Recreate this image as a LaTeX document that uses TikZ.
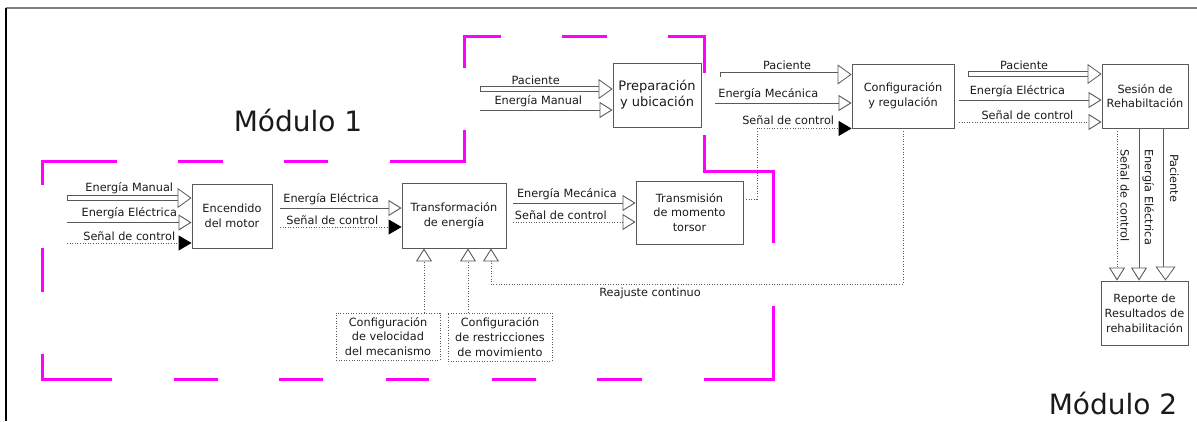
\documentclass[tikz,border=0pt]{standalone}
\usepackage{fontspec}
\setmainfont{DejaVu Sans}
\usetikzlibrary{arrows.meta}

\definecolor{linea}{HTML}{595959}
\definecolor{texto}{HTML}{1A1A1A}
\definecolor{rosa}{HTML}{FF00FF}

\tikzset{
	bloque/.style={draw=linea, line width=0.9pt, align=center, text=texto, font=\fontsize{11.3}{14.8}\selectfont, inner sep=0pt},
	etiq/.style={text=texto, font=\fontsize{11.3}{13}\selectfont, inner sep=1pt},
	vertical/.style={etiq, rotate=-90, anchor=south west, inner ysep=3pt},
	punteado/.style={dash pattern=on 1pt off 1.6pt},
	flecha/.style={draw=linea, line width=0.9pt, -{Triangle[open, fill=white, length=13pt, width=16pt]}},
	flechanegra/.style={draw=linea, line width=0.9pt, punteado, -{Triangle[length=13pt, width=15pt, color=black]}},
	doble/.style={draw=linea, line width=0.8pt, double=white, double distance=4pt, {Bar[width=5.6pt, line width=0.8pt]}-{Triangle[open, fill=white, length=14pt, width=20pt, line width=0.8pt]}},
	modulo/.style={draw=rosa, line width=3pt},
	titulo/.style={text=texto, font=\fontsize{28}{30}\selectfont}
}

\begin{document}
\begin{tikzpicture}[x=1pt, y=-1pt]
	\useasboundingbox (0,0) rectangle (1197,421);
	\draw[gray, line width=1.6pt] (6,8) -- (1197,8);
	\draw[black, line width=1.6pt] (6,8) -- (6,421);

	% limite del modulo 1
	\draw[modulo] (42,185) -- (42,161) -- (117,161) (178,161) -- (223,161) (284,161) -- (328,161)
		(390,161) -- (464,161) -- (464,130) (464,68) -- (464,36) -- (501,36) (562,36) -- (607,36)
		(668,36) -- (704,36) -- (704,73) (704,135) -- (704,171) -- (773,171) -- (773,243)
		(773,306) -- (773,379) -- (704,379) (642,379) -- (597,379) (536,379) -- (492,379)
		(429,379) -- (386,379) (323,379) -- (279,379) (218,379) -- (174,379)
		(112,379) -- (42,379) -- (42,354) (42,292) -- (42,248);

	\node[titulo] (m1) at (298,120) {Módulo 1};
	\node[titulo] (m2) at (1113,403) {Módulo 2};

	% bloques
	\node[bloque, minimum width=80pt, minimum height=64pt] (enc) at (232,216) {Encendido\\del motor};
	\node[bloque, minimum width=104pt, minimum height=65pt] (transf) at (454,215.5) {Transformación\\de energía};
	\node[bloque, minimum width=107pt, minimum height=63pt] (transm) at (689.5,212.5) {Transmisión\\de momento\\torsor};
	\node[bloque, minimum width=88pt, minimum height=64pt, font=\fontsize{13}{16}\selectfont] (prep) at (657,95) {Preparación\\y ubicación};
	\node[bloque, minimum width=102pt, minimum height=64pt] (conf) at (903,96) {Configuración\\y regulación};
	\node[bloque, minimum width=86pt, minimum height=64pt] (sesion) at (1145,96) {Sesión de\\Rehabiltación};
	\node[bloque, minimum width=87pt, minimum height=64pt] (rep) at (1144.5,313) {Reporte de\\Resultados de\\rehabilitación};
	\node[bloque, punteado, minimum width=104pt, minimum height=47pt] (vel) at (388,336.5) {Configuración\\de velocidad\\del mecanismo};
	\node[bloque, punteado, minimum width=104pt, minimum height=48pt] (rest) at (500,337) {Configuración\\de restricciones\\de movimiento};

	% entradas del encendido
	\coordinate (a1) at (67,198);
	\coordinate (a2) at (67,222.5);
	\coordinate (a3) at (67,243);
	\draw[doble] (a1) -- (enc.west |- a1) node[etiq, midway, above=3pt] {Energía Manual};
	\draw[flecha] (a2) -- (enc.west |- a2) node[etiq, midway, above=2pt] {Energía Eléctrica};
	\draw[flechanegra] (a3) -- (enc.west |- a3) node[etiq, midway, above=1pt] {Señal de control};

	% encendido -> transformacion -> transmision
	\coordinate (b1) at (280,208);
	\coordinate (b2) at (280,227);
	\draw[flecha] (b1) -- (transf.west |- b1) node[etiq, pos=0.42, above=2pt] {Energía Eléctrica};
	\draw[flechanegra] (b2) -- (transf.west |- b2) node[etiq, pos=0.43, above=1pt] {Señal de control};
	\coordinate (c1) at (513,203);
	\coordinate (c2) at (513,222);
	\draw[flecha] (c1) -- (transm.west |- c1) node[etiq, pos=0.44, above=2pt] {Energía Mecánica};
	\draw[flecha, punteado] (c2) -- (transm.west |- c2) node[etiq, pos=0.39, above=1pt] {Señal de control};

	% transmision -> configuracion
	\coordinate (s1) at (757,199);
	\draw[flechanegra] (transm.east |- s1) -- (s1) |- (conf.south west) node[etiq, pos=0.665, above=2pt] {Señal de control};

	% entradas de preparacion
	\coordinate (p1) at (480,89);
	\coordinate (p2) at (480,110);
	\draw[doble] (p1) -- (prep.west |- p1) node[etiq, pos=0.42, above=3pt] {Paciente};
	\draw[flecha] (p2) -- (prep.west |- p2) node[etiq, pos=0.44, above=2pt] {Energía Manual};

	% entradas de configuracion
	\coordinate (d1) at (720,74.5);
	\coordinate (d2) at (715,103);
	\draw[doble] (d1) -- (conf.west |- d1) node[etiq, pos=0.51, above=3pt] {Paciente};
	\draw[flecha] (d2) -- (conf.west |- d2) node[etiq, pos=0.39, above=2pt] {Energía Mecánica};

	% entradas de la sesion
	\coordinate (e1) at (968,74);
	\coordinate (e2) at (959,100);
	\coordinate (e3) at (959,122);
	\draw[doble] (e1) -- (sesion.west |- e1) node[etiq, pos=0.42, above=3pt] {Paciente};
	\draw[flecha] (e2) -- (sesion.west |- e2) node[etiq, pos=0.41, above=2pt] {Energía Eléctrica};
	\draw[flecha, punteado] (e3) -- (sesion.west |- e3) node[etiq, pos=0.48, above=1pt] {Señal de control};

	% sesion -> reporte
	\coordinate (v1) at (1117,128);
	\coordinate (v2) at (1139,128);
	\coordinate (v3) at (1165.5,128);
	\draw[flecha, punteado] (sesion.south -| v1) -- (rep.north -| v1) node[vertical, pos=0.13] {Señal de control};
	\draw[flecha] (sesion.south -| v2) -- (rep.north -| v2) node[vertical, pos=0.13] {Energía Eléctrica};
	\draw[doble] (sesion.south -| v3) -- (rep.north -| v3) node[vertical, pos=0.16, inner ysep=4pt] {Paciente};

	% configuraciones -> transformacion
	\coordinate (u1) at (424,300);
	\coordinate (u2) at (468,300);
	\draw[flecha, punteado] (vel.north -| u1) -- (transf.south -| u1);
	\draw[flecha, punteado] (rest.north -| u2) -- (transf.south -| u2);

	% reajuste continuo
	\coordinate (r1) at (903,284);
	\coordinate (r2) at (491,248);
	\draw[flecha, punteado] (conf.south) -- (r1) -| (transf.south -| r2) node[etiq, pos=0.307, below=2pt] {Reajuste continuo};
\end{tikzpicture}
\end{document}
